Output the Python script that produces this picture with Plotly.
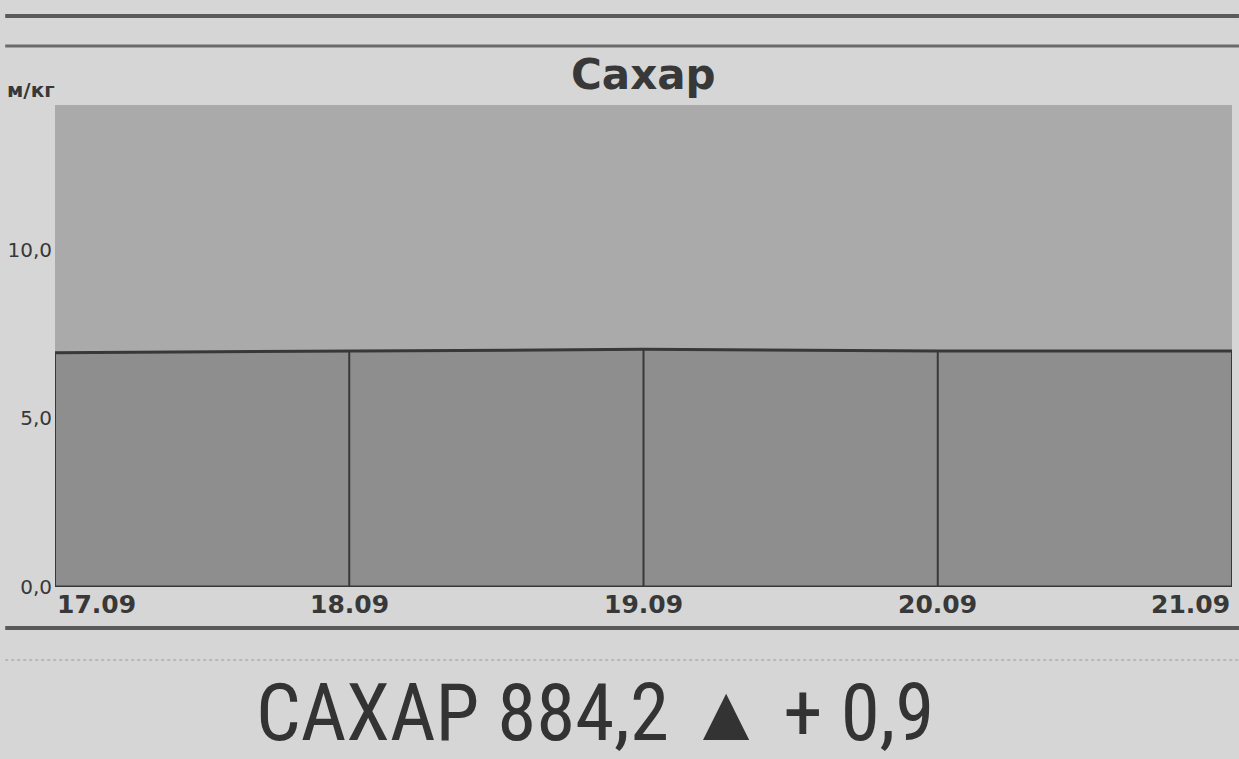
import plotly.graph_objects as go

# ---- data ----
dates = ["17.09", "18.09", "19.09", "20.09", "21.09"]
prices = [6.95, 7.0, 7.05, 7.0, 7.0]
y_ticks = [0, 5, 10]
y_tick_labels = ["0,0", "5,0", "10,0"]
title_text = "Сахар"
unit_text = "м/кг"
footer_text = "САХАР 884,2 ▲ + 0,9"

x_pos = list(range(len(dates)))

PAGE = "#d6d6d6"
BAND = "#aaaaaa"
AREA = "#8e8e8e"
INK = "#383838"

fig = go.Figure()

# filled area below the price line
fig.add_trace(go.Scatter(
    x=x_pos, y=prices, mode="lines", fill="tozeroy",
    fillcolor=AREA, line=dict(color=INK, width=3),
    hoverinfo="skip", showlegend=False,
))

# vertical dividers at each date, from 0 up to the price
vx, vy = [], []
for xi, yi in zip(x_pos, prices):
    vx += [xi, xi, None]
    vy += [0, yi, None]
fig.add_trace(go.Scatter(
    x=vx, y=vy, mode="lines", line=dict(color=INK, width=2),
    hoverinfo="skip", showlegend=False,
))

# baseline
fig.add_trace(go.Scatter(
    x=[x_pos[0], x_pos[-1]], y=[0, 0], mode="lines",
    line=dict(color=INK, width=3), hoverinfo="skip", showlegend=False,
))

W, H = 1239, 759
L, R, T, B = 50, 7, 105, 172
ph = H - T - B
pw = W - L - R


def py(p):
    return (H - B - p) / ph


def px(p):
    return (p - L) / pw


annotations = []
# x tick labels (first left aligned, last right aligned)
for i, d in enumerate(dates):
    anchor = "center"
    if i == 0:
        anchor = "left"
    elif i == len(dates) - 1:
        anchor = "right"
    annotations.append(dict(
        x=x_pos[i], xref="x", y=py(604), yref="paper", text="<b>" + d + "</b>",
        xanchor=anchor, yanchor="middle", showarrow=False,
        font=dict(family="DejaVu Sans", size=25, color=INK),
    ))

annotations.append(dict(
    x=0.5, xref="paper", y=py(74), yref="paper", text="<b>" + title_text + "</b>",
    xanchor="center", yanchor="middle", showarrow=False,
    font=dict(family="DejaVu Sans", size=42, color=INK),
))
annotations.append(dict(
    x=px(0), xref="paper", y=py(90), yref="paper", text="<b>" + unit_text + "</b>",
    xanchor="left", yanchor="middle", showarrow=False,
    font=dict(family="DejaVu Sans", size=20, color=INK),
))
annotations.append(dict(
    x=px(592), xref="paper", y=py(713), yref="paper", text=footer_text,
    xanchor="center", yanchor="middle", showarrow=False,
    font=dict(family="Roboto Condensed, Liberation Sans Narrow, Liberation Sans", size=79, color="#333333"),
))

shapes = [
    dict(type="line", xref="paper", yref="paper", x0=px(0), x1=px(W), y0=py(16), y1=py(16),
         line=dict(color="#5a5a5a", width=4)),
    dict(type="line", xref="paper", yref="paper", x0=px(0), x1=px(W), y0=py(46), y1=py(46),
         line=dict(color="#6a6a6a", width=3)),
    dict(type="line", xref="paper", yref="paper", x0=px(0), x1=px(W), y0=py(628), y1=py(628),
         line=dict(color="#5a5a5a", width=4)),
    dict(type="line", xref="paper", yref="paper", x0=px(0), x1=px(W), y0=py(660), y1=py(660),
         line=dict(color="#b8b8b8", width=2, dash="dot")),
]

fig.update_layout(
    width=W, height=H,
    margin=dict(l=L, r=R, t=T, b=B),
    paper_bgcolor=PAGE, plot_bgcolor=BAND,
    annotations=annotations, shapes=shapes,
    showlegend=False,
)
fig.update_xaxes(range=[x_pos[0], x_pos[-1]], showgrid=False, zeroline=False,
                 showticklabels=False, ticks="", showline=False, fixedrange=True)
fig.update_yaxes(range=[0, 14.3], showgrid=False, zeroline=False,
                 tickvals=y_ticks, ticktext=y_tick_labels, ticks="",
                 tickfont=dict(family="DejaVu Sans", size=20, color=INK),
                 ticklabelstandoff=2, showline=False, fixedrange=True)

fig.write_html("out.html", config={"displayModeBar": False},
               post_script="document.body.style.margin='0';document.body.style.overflow='hidden';")
